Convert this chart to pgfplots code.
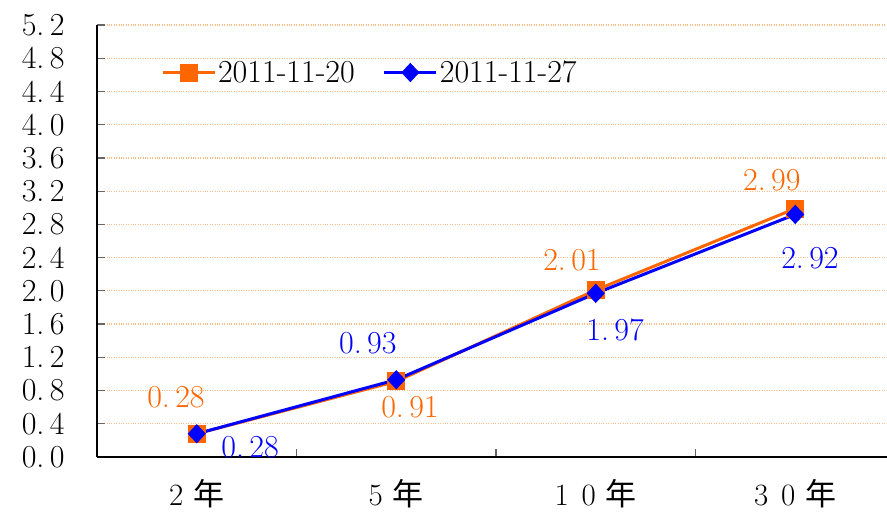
\documentclass[border=0pt]{standalone}
\usepackage{fontspec}
\usepackage{pgfplots}
\pgfplotsset{compat=1.18}
\newfontfamily\cjk{Noto Sans CJK SC}
\definecolor{cor}{RGB}{255,102,0}
\definecolor{cbl}{RGB}{0,0,255}
\definecolor{cgrid}{RGB}{255,190,135}
\begin{document}
\begin{tikzpicture}
\path[use as bounding box] (-97pt,-58pt) rectangle (790pt,457pt);
\begin{axis}[
  at={(0pt,0pt)}, anchor=south west,
  scale only axis, width=790pt, height=432pt,
  xmin=-0.5, xmax=3.46, ymin=0, ymax=5.2,
  axis lines*=left,
  axis line style={black, line width=1.3pt},
  tick align=inside,
  ytick={0,0.4,...,5.2},
  yticklabels={0.\,0,0.\,4,0.\,8,1.\,2,1.\,6,2.\,0,2.\,4,2.\,8,3.\,2,3.\,6,4.\,0,4.\,4,4.\,8,5.\,2},
  yticklabel style={font=\fontsize{32}{36}\selectfont, anchor=east, xshift=-29pt},
  major tick length=8pt,
  tick style={gray!80!black, line width=1.2pt},
  xtick={0.5,1.5,2.5},
  xticklabels={},
  extra x ticks={0,1,2,3},
  extra x tick labels={2\hspace{10pt}{\cjk 年},5\hspace{10pt}{\cjk 年},1\hspace{13pt}0\hspace{10pt}{\cjk 年},3\hspace{13pt}0\hspace{10pt}{\cjk 年}},
  extra x tick style={major tick length=0pt, tick label style={font=\fontsize{31}{36}\selectfont, yshift=-19pt}},
  ymajorgrids,
  grid style={cgrid, dotted, line width=1.3pt},
  clip=false,
  legend columns=2,
  legend style={draw=none, fill=none, at={(0.077,0.89)}, anchor=west, font=\fontsize{32}{36}\selectfont, /tikz/every even column/.append style={column sep=26pt}},
  legend image code/.code={\draw[mark repeat=2,mark phase=2,#1] plot coordinates {(0pt,0pt) (26pt,0pt) (52pt,0pt)};},
]
\addplot[cor, line width=3pt, mark=square*, mark size=7.5pt, mark options={solid}] coordinates {(0,0.28) (1,0.91) (2,2.01) (3,2.99)};
\addlegendentry{2011-11-20}
\addplot[cbl, line width=3pt, mark=diamond*, mark size=7.5pt, mark options={solid, xscale=1.25}] coordinates {(0,0.28) (1,0.93) (2,1.97) (3,2.92)};
\addlegendentry{2011-11-27}
\begin{scope}[every node/.style={font=\fontsize{32}{36}\selectfont, inner sep=0pt, anchor=center}]
\node[cor] at (axis cs:-0.104,0.722) {0.\,28};
\node[cbl] at (axis cs:0.267,0.12) {0.\,28};
\node[cor] at (axis cs:1.069,0.60) {0.\,91};
\node[cbl] at (axis cs:0.858,1.372) {0.\,93};
\node[cor] at (axis cs:1.881,2.371) {2.\,01};
\node[cbl] at (axis cs:2.097,1.529) {1.\,97};
\node[cor] at (axis cs:2.883,3.334) {2.\,99};
\node[cbl] at (axis cs:3.074,2.395) {2.\,92};
\end{scope}
\end{axis}
\end{tikzpicture}
\end{document}
